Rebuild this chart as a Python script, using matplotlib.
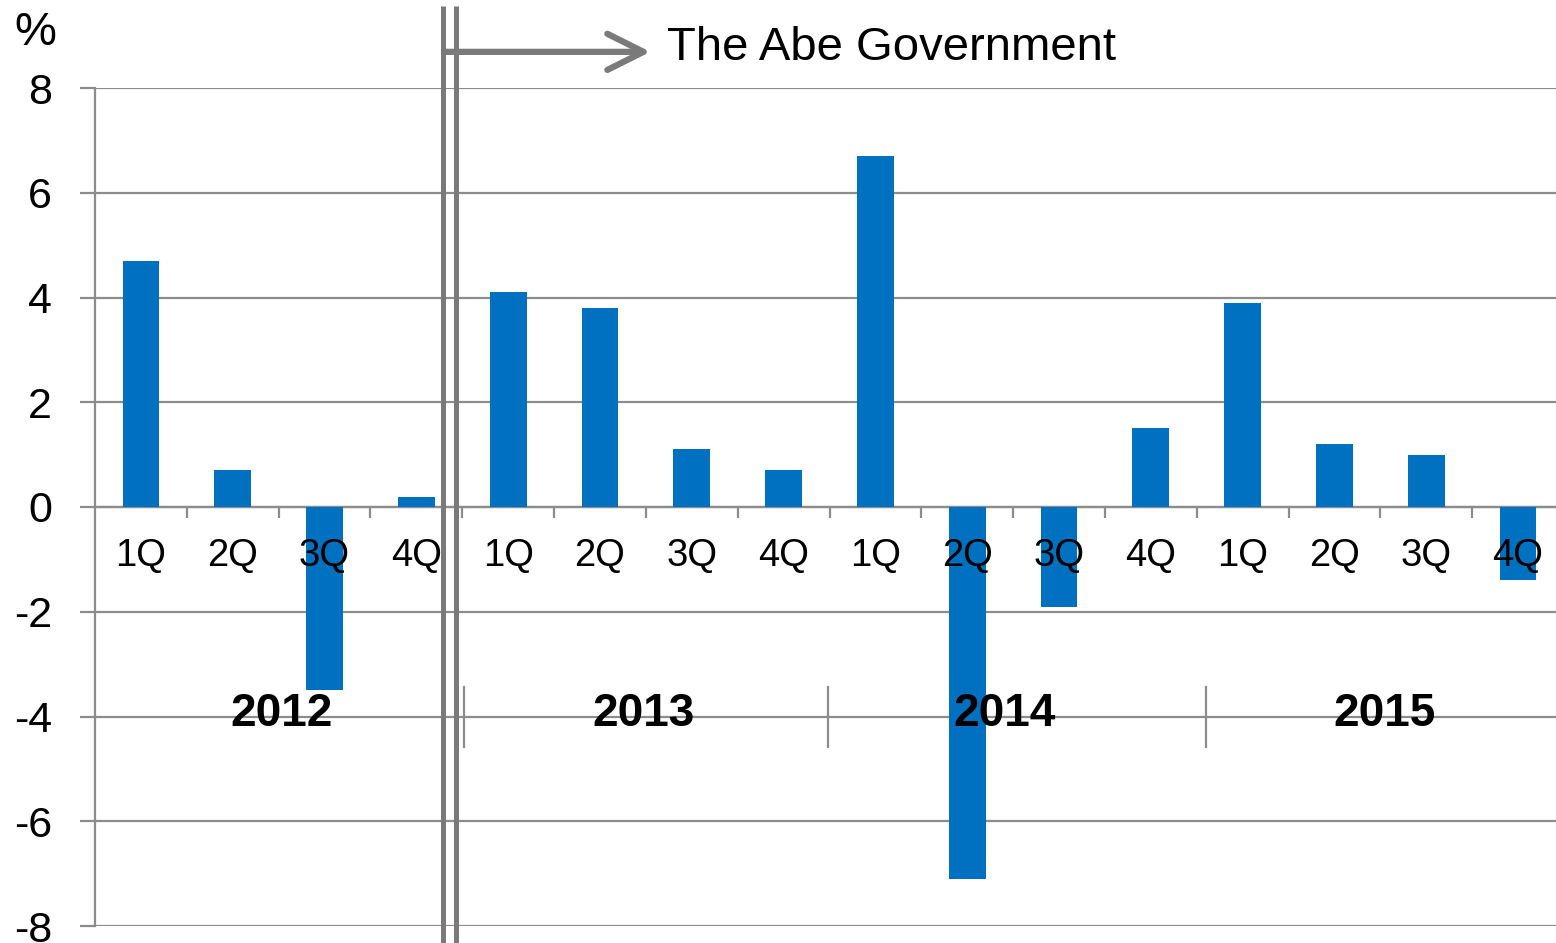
import matplotlib.pyplot as plt

plt.rcParams['font.family'] = ['Liberation Sans', 'DejaVu Sans']

# Quarterly values (%), 2012 1Q .. 2015 4Q
quarters = ["1Q", "2Q", "3Q", "4Q"] * 4
values = [4.7, 0.7, -3.5, 0.2,
          4.1, 3.8, 1.1, 0.7,
          6.7, -7.1, -1.9, 1.5,
          3.9, 1.2, 1.0, -1.4]
years = ["2012", "2013", "2014", "2015"]
year_pos = [1.53, 5.47, 9.41, 13.54]
year_seps = [3.52, 7.48, 11.6]
abe_start = 3.36  # between 2012 4Q and 2013 1Q
y_ticks = [8, 6, 4, 2, 0, -2, -4, -6, -8]

GRID = "#8c8c8c"
BAR = "#0070C0"
DARK = "#7a7a7a"

fig = plt.figure(figsize=(15.56, 9.43), dpi=100)
ax = fig.add_axes([95 / 1556, 17 / 943, (1564 - 95) / 1556, 838 / 943])

x = list(range(len(values)))
ax.bar(x, values, width=0.4, color=BAR, zorder=3)

ax.set_xlim(-0.5, len(values) - 0.5)
ax.set_ylim(-8, 8)

# horizontal gridlines
ax.set_yticks(y_ticks)
ax.set_yticklabels([str(v) for v in y_ticks], fontsize=31)
ax.yaxis.grid(True, color=GRID, lw=1.6, zorder=1)
ax.tick_params(axis='y', length=11, width=1.6, color=GRID, pad=20, direction='out')

for s in ["top", "right"]:
    ax.spines[s].set_visible(False)
ax.spines["left"].set_color(GRID)
ax.spines["left"].set_linewidth(1.6)
ax.spines["bottom"].set_position(("data", 0))
ax.spines["bottom"].set_color(GRID)
ax.spines["bottom"].set_linewidth(1.6)

# category labels at bar centres, tick marks at boundaries
ax.set_xticks(x)
ax.set_xticklabels(quarters, fontsize=27.5)
ax.tick_params(axis='x', which='major', length=0, pad=22)
ax.set_xticks([i + 0.5 for i in x[:-1]], minor=True)
ax.tick_params(axis='x', which='minor', length=8, width=1.6, color=GRID, direction='out')
ax.xaxis.set_zorder(5)

# year labels and separators
for xp, yr in zip(year_pos, years):
    ax.text(xp, -3.95, yr, fontsize=33, fontweight='bold',
            ha='center', va='center', zorder=5)
for s in year_seps:
    ax.plot([s, s], [-3.44, -4.58], color=GRID, lw=1.6, zorder=2)

# double line marking start of Abe government
for dx in (-0.07, 0.07):
    ax.plot([abe_start + dx, abe_start + dx], [-8.4, 9.56], color=DARK, lw=3.6,
            clip_on=False, zorder=4, solid_capstyle='butt')

ax.annotate("", xy=(5.55, 8.69), xytext=(abe_start - 0.05, 8.69),
            arrowprops=dict(arrowstyle="->,head_length=1.3,head_width=0.65",
                            mutation_scale=20, color=DARK, lw=4.5,
                            shrinkA=0, shrinkB=0, capstyle='round'),
            annotation_clip=False)
ax.text(5.73, 8.76, "The Abe Government", fontsize=34, va='center', ha='left')

fig.text(35 / 1556, 1 - 33 / 943, "%", fontsize=34, ha='center', va='center')

fig.savefig("out.png", dpi=100)
